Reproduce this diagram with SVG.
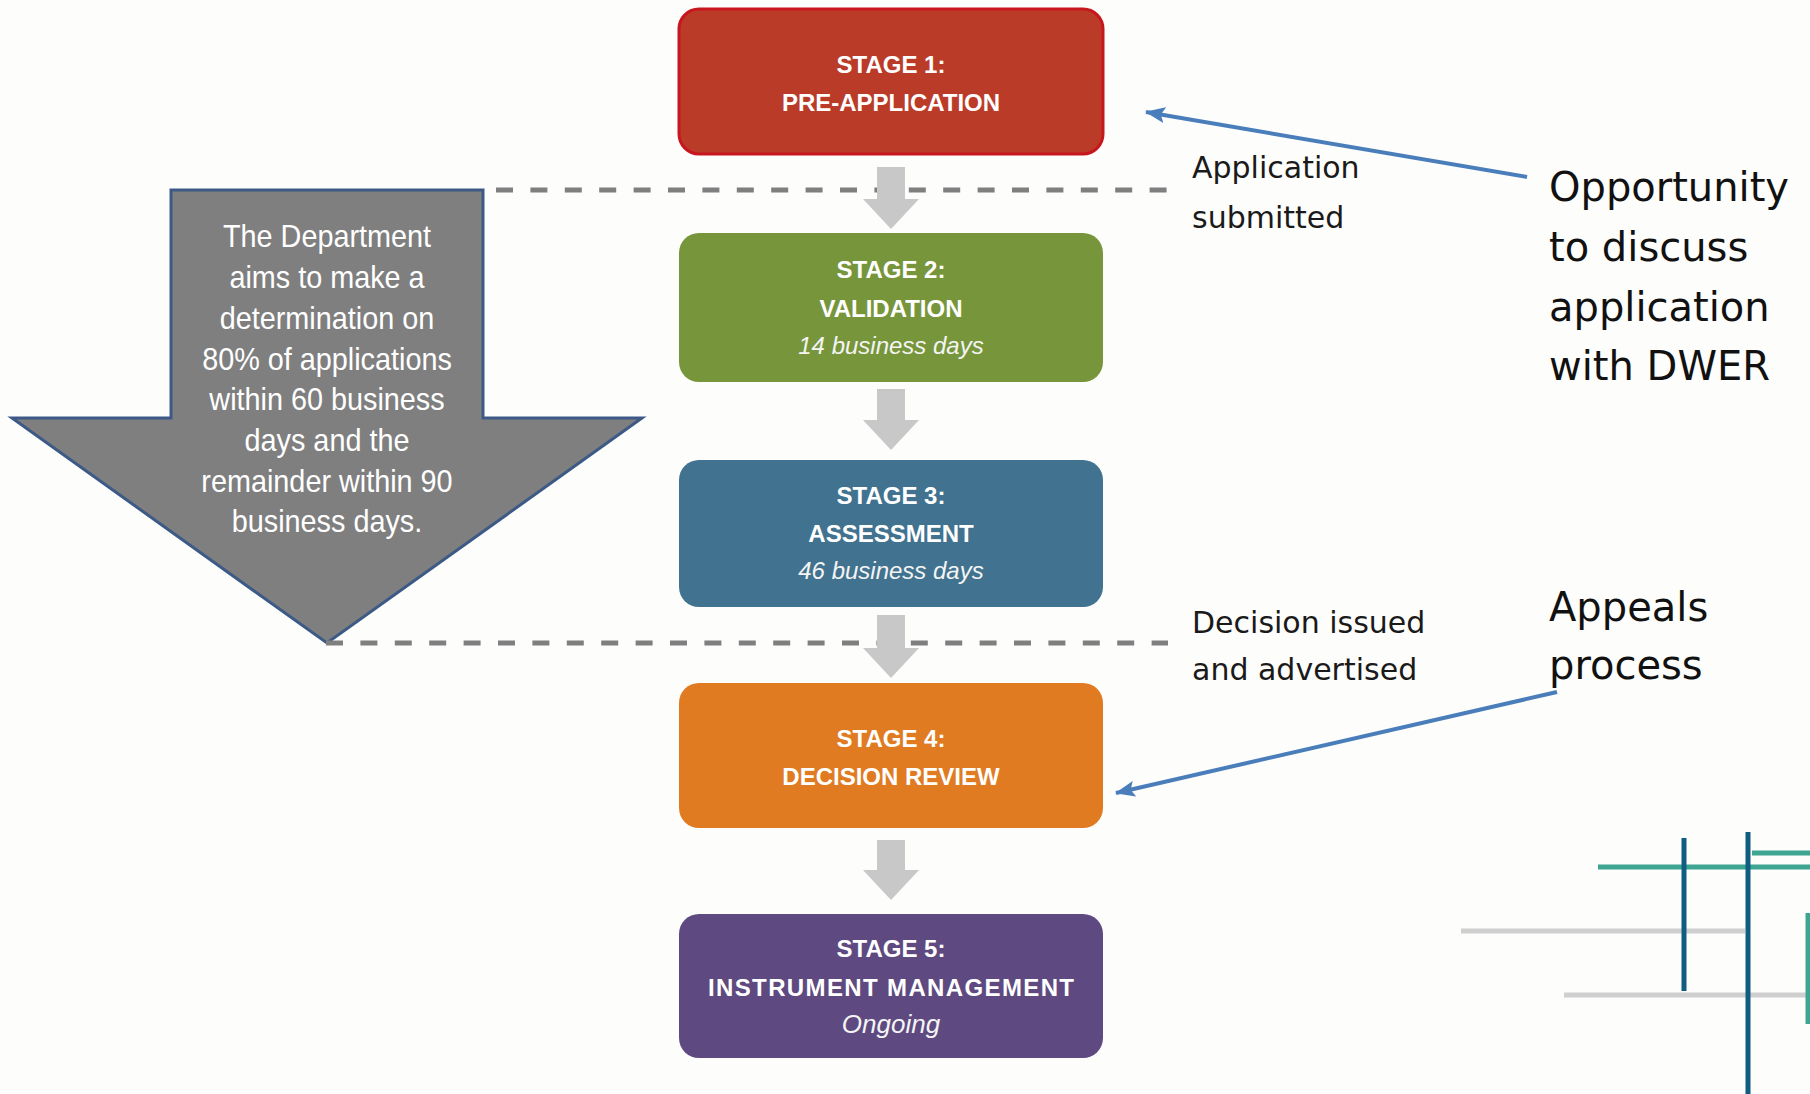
<svg xmlns="http://www.w3.org/2000/svg" width="1810" height="1094" viewBox="0 0 1810 1094">
<defs>
<style>
.title{font-family:"Liberation Sans",Arial,sans-serif;font-weight:bold;font-size:24px;fill:#ffffff;text-anchor:middle}
.sub{font-family:"Liberation Sans",Arial,sans-serif;font-style:italic;font-size:24px;fill:#f4f4f4;text-anchor:middle}
.arrowtxt{font-family:"Liberation Sans",Arial,sans-serif;font-size:32px;fill:#ffffff;text-anchor:middle}
.note{font-family:"DejaVu Sans",Verdana,sans-serif;font-size:30px;fill:#1a1a1a}
.big{font-family:"DejaVu Sans",Verdana,sans-serif;font-size:40px;fill:#111111}
.dash{stroke:#7f7f7f;stroke-width:5;stroke-dasharray:17 17.4;fill:none}
.flow{fill:#c8c8c8}
.blue{stroke:#4a7ebb;stroke-width:4;fill:none;marker-end:url(#bh)}
.deco{stroke-width:5;fill:none}
</style>
<marker id="bh" viewBox="0 0 20 16" refX="19" refY="8" markerWidth="20" markerHeight="16" markerUnits="userSpaceOnUse" orient="auto">
<path d="M0,0 L20,8 L0,16 L4,8 Z" fill="#4a7ebb"/>
</marker>
</defs>
<rect x="0" y="0" width="1810" height="1094" fill="#fdfdfc"/>

<g id="decor">
<line class="deco" x1="1461" y1="931" x2="1745" y2="931" stroke="#cfcfcf"/>
<line class="deco" x1="1564" y1="995" x2="1810" y2="995" stroke="#cfcfcf"/>
<line class="deco" x1="1598" y1="867" x2="1810" y2="867" stroke="#3fa593"/>
<line class="deco" x1="1752" y1="853" x2="1810" y2="853" stroke="#3fa593"/>
<line class="deco" x1="1808" y1="913" x2="1808" y2="1024" stroke="#3fa593"/>
<line class="deco" x1="1684" y1="838" x2="1684" y2="991" stroke="#0f5e80"/>
<line class="deco" x1="1748" y1="832" x2="1748" y2="1094" stroke="#0f5e80"/>
</g>

<g id="timeline-arrow">
<polygon points="171,190 483,190 483,418 642,418 327,643 12,418 171,418" fill="#7f7f7f" stroke="#3d5a87" stroke-width="3" stroke-linejoin="miter"/>
<g transform="translate(327,0) scale(0.9,1)">
<text class="arrowtxt" x="0" y="247">The Department</text>
<text class="arrowtxt" x="0" y="288">aims to make a</text>
<text class="arrowtxt" x="0" y="329">determination on</text>
<text class="arrowtxt" x="0" y="370">80% of applications</text>
<text class="arrowtxt" x="0" y="410">within 60 business</text>
<text class="arrowtxt" x="0" y="451">days and the</text>
<text class="arrowtxt" x="0" y="492">remainder within 90</text>
<text class="arrowtxt" x="0" y="532">business days.</text>
</g>
</g>

<g id="connectors">
<line class="dash" x1="496" y1="190" x2="1168" y2="190"/>
<line class="dash" x1="326" y1="643" x2="1168" y2="643"/>
<polygon class="flow" points="877,167 905,167 905,199 919,199 891,229 863,199 877,199"/>
<polygon class="flow" points="877,389 905,389 905,420 919,420 891,450 863,420 877,420"/>
<polygon class="flow" points="877,615 905,615 905,648 919,648 891,678 863,648 877,648"/>
<polygon class="flow" points="877,840 905,840 905,870 919,870 891,900 863,870 877,870"/>
<line class="blue" x1="1527" y1="177" x2="1146" y2="112"/>
<line class="blue" x1="1557" y1="692" x2="1116" y2="793"/>
</g>

<g id="stage1">
<rect x="679" y="9" width="424" height="145" rx="20" fill="#bb3b29" stroke="#c8161e" stroke-width="3"/>
<text class="title" x="891" y="73">STAGE 1:</text>
<text class="title" x="891" y="111">PRE-APPLICATION</text>
</g>

<g id="stage2">
<rect x="679" y="233" width="424" height="149" rx="20" fill="#77963b"/>
<text class="title" x="891" y="278">STAGE 2:</text>
<text class="title" x="891" y="317">VALIDATION</text>
<text class="sub" x="891" y="354">14 business days</text>
</g>

<g id="stage3">
<rect x="679" y="460" width="424" height="147" rx="20" fill="#41728f"/>
<text class="title" x="891" y="504">STAGE 3:</text>
<text class="title" x="891" y="542">ASSESSMENT</text>
<text class="sub" x="891" y="579">46 business days</text>
</g>

<g id="stage4">
<rect x="679" y="683" width="424" height="145" rx="20" fill="#e07b22"/>
<text class="title" x="891" y="747">STAGE 4:</text>
<text class="title" x="891" y="785">DECISION REVIEW</text>
</g>

<g id="stage5">
<rect x="679" y="914" width="424" height="144" rx="20" fill="#5e4a80"/>
<text class="title" x="891" y="957">STAGE 5:</text>
<text class="title" x="891" y="996" textLength="366" lengthAdjust="spacing">INSTRUMENT MANAGEMENT</text>
<text class="sub" x="891" y="1033" style="font-size:26px">Ongoing</text>
</g>

<g id="label-submitted">
<text class="note" x="1192" y="178">Application</text>
<text class="note" x="1192" y="228">submitted</text>
</g>

<g id="label-decision">
<text class="note" x="1192" y="633">Decision issued</text>
<text class="note" x="1192" y="680">and advertised</text>
</g>

<g id="label-opportunity">
<text class="big" x="1549" y="201">Opportunity</text>
<text class="big" x="1549" y="261">to discuss</text>
<text class="big" x="1549" y="321">application</text>
<text class="big" x="1549" y="380">with DWER</text>
</g>

<g id="label-appeals">
<text class="big" x="1549" y="621">Appeals</text>
<text class="big" x="1549" y="679">process</text>
</g>
</svg>
